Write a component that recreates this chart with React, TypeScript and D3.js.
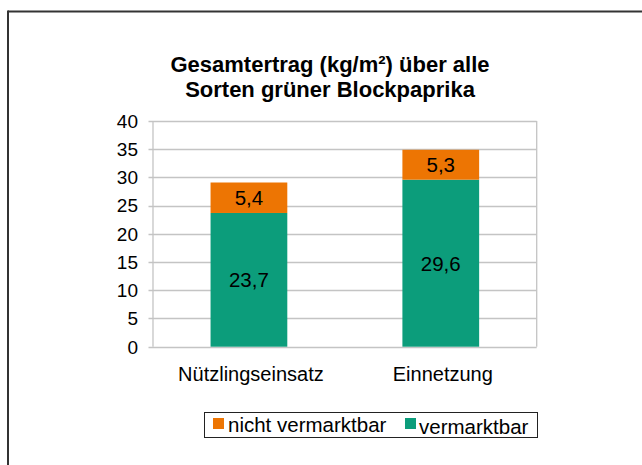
import React from "react";
import * as d3 from "d3";

const categories: string[] = ["Nützlingseinsatz", "Einnetzung"];
const vermarktbar: number[] = [23.7, 29.6];
const nichtVermarktbar: number[] = [5.4, 5.3];
const yTicks: number[] = [0, 5, 10, 15, 20, 25, 30, 35, 40];
const titleLines: string[] = ["Gesamtertrag (kg/m²) über alle", "Sorten grüner Blockpaprika"];
const seriesNames: string[] = ["nicht vermarktbar", "vermarktbar"];

const GREEN = "#0c9d7b";
const ORANGE = "#ed7503";
const FONT = "'Liberation Sans', Arial, Helvetica, sans-serif";

export default function App() {
  const W = 642;
  const H = 465;
  const left = 153;
  const right = 536.7;
  const top = 121;
  const bottom = 346.7;

  const x = d3.scaleBand<string>().domain(categories).range([left, right]).paddingInner(0.6).paddingOuter(0.3);
  const y = d3.scaleLinear().domain([0, 40]).range([bottom, top]);

  const fmt = (v: number) => v.toFixed(1).replace(".", ",");

  return (
    <svg width={W} height={H} style={{ position: "absolute", left: 0, top: 0, background: "#fff" }}>
      <rect x={0} y={0} width={W} height={H} fill="#fff" />
      {/* outer frame */}
      <line x1={8} y1={11.5} x2={W} y2={11.5} stroke="#333" strokeWidth={2} />
      <line x1={8} y1={10.5} x2={8} y2={H} stroke="#333" strokeWidth={2} />

      {/* title */}
      {titleLines.map((t, i) => (
        <text key={i} x={330} y={72 + i * 25} textAnchor="middle" fontFamily={FONT} fontWeight="bold" fontSize={22} fill="#000">
          {t}
        </text>
      ))}

      {/* gridlines */}
      {yTicks.map((t) => (
        <line key={t} x1={left - 4.5} x2={right} y1={Math.round(y(t)) + 0.5} y2={Math.round(y(t)) + 0.5} stroke="#c4c4c4" strokeWidth={1.3} />
      ))}
      <line x1={left} x2={left} y1={top} y2={bottom} stroke="#c4c4c4" strokeWidth={1.3} />
      <line x1={right} x2={right} y1={top} y2={bottom} stroke="#c4c4c4" strokeWidth={1.3} />

      {/* y tick labels */}
      {yTicks.map((t) => (
        <text key={t} x={left - 15} y={y(t)} dy="0.36em" textAnchor="end" fontFamily={FONT} fontSize={19} fill="#000">
          {t}
        </text>
      ))}

      {/* bars */}
      {categories.map((c, i) => {
        const bx = x(c)!;
        const bw = x.bandwidth();
        const g = vermarktbar[i];
        const o = nichtVermarktbar[i];
        return (
          <g key={c}>
            <rect x={bx} y={y(g)} width={bw} height={y(0) - y(g)} fill={GREEN} />
            <rect x={bx} y={y(g + o)} width={bw} height={y(g) - y(g + o)} fill={ORANGE} />
            <text x={bx + bw / 2} y={(y(0) + y(g)) / 2} dy="0.36em" textAnchor="middle" fontFamily={FONT} fontSize={20.5} fill="#000">
              {fmt(g)}
            </text>
            <text x={bx + bw / 2} y={(y(g) + y(g + o)) / 2} dy="0.36em" textAnchor="middle" fontFamily={FONT} fontSize={20.5} fill="#000">
              {fmt(o)}
            </text>
            <text x={bx + bw / 2 + 2} y={381} textAnchor="middle" fontFamily={FONT} fontSize={20} fill="#000">
              {c}
            </text>
          </g>
        );
      })}

      {/* legend */}
      <rect x={204.5} y={412.5} width={333} height={25} fill="#fff" stroke="#222" strokeWidth={1} />
      <rect x={213} y={418} width={11} height={11} fill={ORANGE} />
      <text x={228} y={432} fontFamily={FONT} fontSize={20.5} fill="#000">{seriesNames[0]}</text>
      <rect x={405} y={418} width={11} height={11} fill={GREEN} />
      <text x={419} y={434} fontFamily={FONT} fontSize={20.5} fill="#000">{seriesNames[1]}</text>
    </svg>
  );
}
